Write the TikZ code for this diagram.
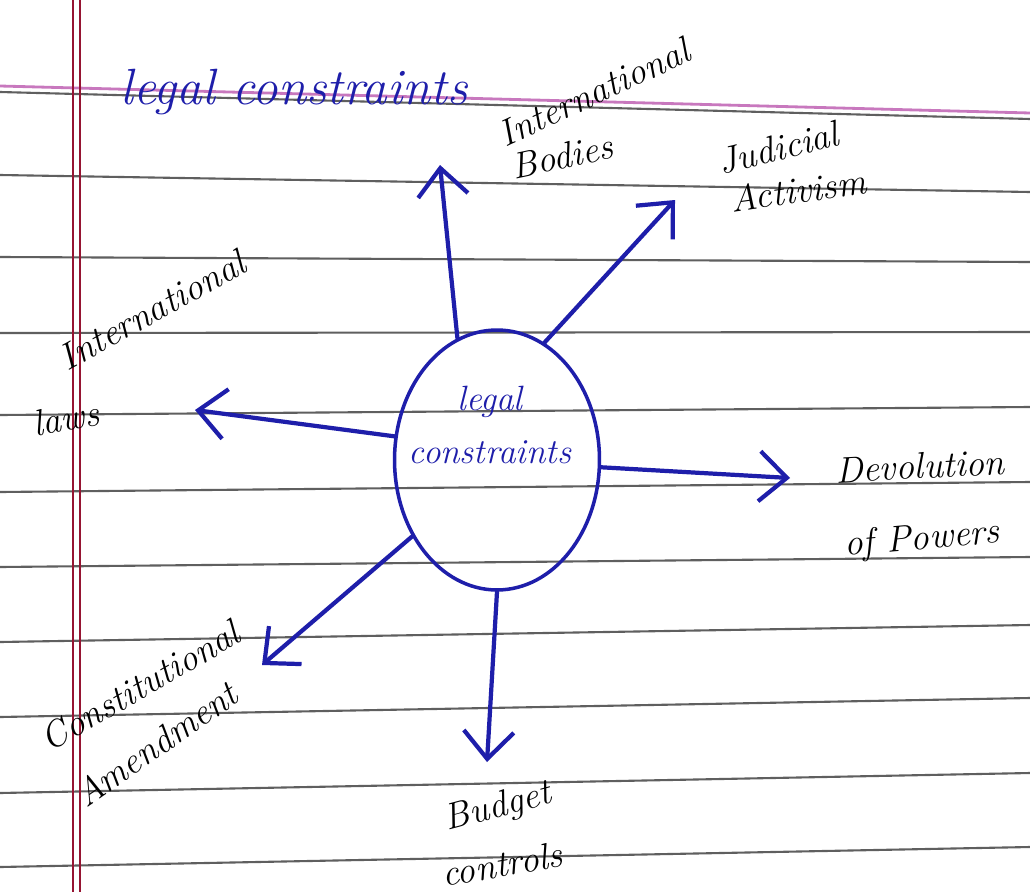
\documentclass[tikz,border=0pt]{standalone}
\usepackage{tikz}
\usetikzlibrary{shapes.geometric,arrows.meta}

\definecolor{ink}{RGB}{30,30,170}
\definecolor{rule}{RGB}{95,95,95}
\definecolor{margin}{RGB}{150,20,50}
\definecolor{pinkrule}{RGB}{200,120,190}

\tikzset{
  arrowline/.style={ink, line width=2.4pt, line cap=round,
    -{Straight Barb[length=5.5mm, width=10mm, line width=2.4pt]}},
  lbl/.style={font=\fontsize{21}{23}\selectfont\itshape, inner sep=0pt},
}

\begin{document}
\begin{tikzpicture}[x=0.02cm, y=-0.02cm]
            \useasboundingbox[fill=white] (0,0) rectangle (1030,892);

            % ruled paper
            \draw[pinkrule, line width=1.6pt] (0,86) -- (1030,113);
            \draw[rule, line width=1.2pt] (0,92) -- (1030,119);
            \foreach \yl/\yr in {175/192, 257/262, 333/332, 415/407, 492/482,
                                 567/557, 642/625, 717/698, 793/773, 867/847}
              \draw[rule, line width=1.2pt] (0,\yl) -- (1030,\yr);
            \draw[margin, line width=0.9pt] (73,0) -- (73,892);
            \draw[margin, line width=0.9pt] (80,0) -- (80,892);

            % title
            \node[lbl, ink, font=\fontsize{29}{31}\selectfont\itshape] (title) at (294,92) {legal constraints};

            % centre
            \node[draw=ink, line width=2pt, ellipse, minimum width=4.1cm, minimum height=5.2cm] (ctr) at (497,460) {};
            \node[align=center, ink, font=\fontsize{20}{30}\selectfont\itshape] (ctrtxt) at (490,425) {legal\\constraints};

            % labels
            \node[lbl, rotate=25] (ib1) at (594,92) {International};
            \node[lbl, rotate=12] (ib2) at (562,156) {Bodies};
            \node[lbl, rotate=14] (ja1) at (778,148) {Judicial};
            \node[lbl, rotate=8] (ja2) at (798,190) {Activism};
            \node[lbl, rotate=29] (il1) at (152,310) {International};
            \node[lbl, rotate=10] (il2) at (66,418) {laws};
            \node[lbl, rotate=3] (dp1) at (920,466) {Devolution};
            \node[lbl, rotate=5] (dp2) at (922,540) {of Powers};
            \node[lbl, rotate=30] (ca1) at (140,686) {Constitutional};
            \node[lbl, rotate=35] (ca2) at (156,744) {Amendment};
            \node[lbl, rotate=15] (bc1) at (498,808) {Budget};
            \node[lbl, rotate=10] (bc2) at (502,864) {controls};

            % arrow tips
            \coordinate (tib) at (440,165);
            \coordinate (tja) at (675,200);
            \coordinate (til) at (195,410);
            \coordinate (tdp) at (790,478);
            \coordinate (tca) at (262,665);
            \coordinate (tbc) at (487,762);

            \draw[arrowline] (ctr.108) -- (tib);
            \draw[arrowline] (ctr.68) -- (tja);
            \draw[arrowline] (ctr.167) -- (til);
            \draw[arrowline] (ctr.-4) -- (tdp);
            \draw[arrowline] (ctr.222) -- (tca);
            \draw[arrowline] (ctr.270) -- (tbc);
        \end{tikzpicture}
\end{document}
